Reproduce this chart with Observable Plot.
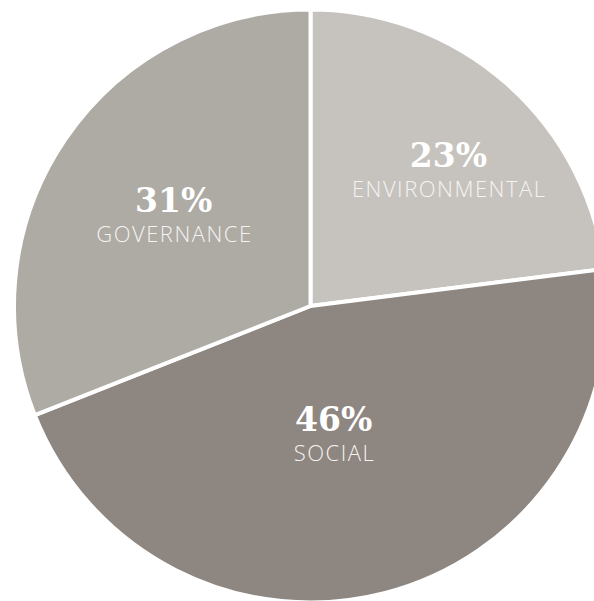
<!DOCTYPE html>
<html><head><meta charset="utf-8">
<script src="https://cdn.jsdelivr.net/npm/d3@7"></script>
<script src="https://cdn.jsdelivr.net/npm/@observablehq/plot@0.6"></script>
<style>
  html,body{margin:0;padding:0;background:#fff;overflow:hidden;}
  #chart svg{display:block;}
</style>
</head><body><div id="chart"></div>
<script>
// ---- data ----
const categories = ["ENVIRONMENTAL", "SOCIAL", "GOVERNANCE"];
const shares = [23, 46, 31];
const percentLabels = ["23%", "46%", "31%"];
const sliceColors = ["#c6c3be", "#8e8680", "#aeaaa4"];

// ---- layout (not data) ----
const W = 594, H = 601;
const layout = {cx: 310.5, cy: 306, r: 296.5, labelR: [0.66, 0.428, 0.562], labelTurnDeg: [3.2, 4.1, 0.3]};
const pctSpacing = 0, catSpacing = 1.5;

const rows = categories.map((c, i) => ({category: c, share: shares[i], pct: percentLabels[i]}));
const arcs = d3.pie().sort(null).value(d => d.share)(rows);
const colorScale = Plot.scale({color: {type: "ordinal", domain: categories, range: sliceColors}});

arcs.forEach((a, i) => {
  const ang = (a.startAngle + a.endAngle) / 2 + layout.labelTurnDeg[i] * Math.PI / 180;
  a.data.lx = layout.labelR[i] * Math.sin(ang);
  a.data.ly = layout.labelR[i] * Math.cos(ang);
});
const labelRows = arcs.map(a => a.data);

function pieSlices(index, scales) {
  const x = scales.x, y = scales.y;
  const cx = x(0), cy = y(0), R = x(1) - x(0);
  const arc = d3.arc().innerRadius(0).outerRadius(R);
  const g = d3.create("svg:g").attr("transform", `translate(${cx},${cy})`);
  g.selectAll("path").data(arcs).join("path")
    .attr("d", arc)
    .attr("fill", d => colorScale.apply(d.data.category))
    .attr("stroke", "#ffffff")
    .attr("stroke-width", 4)
    .attr("stroke-linejoin", "round");
  return g.node();
}

const chart = Plot.plot({
  width: W, height: H, margin: 0,
  x: {domain: [-1, 1], range: [layout.cx - layout.r, layout.cx + layout.r], axis: null},
  y: {domain: [-1, 1], range: [layout.cy + layout.r, layout.cy - layout.r], axis: null},
  style: {background: "#ffffff"},
  marks: [
    pieSlices,
    Plot.text(labelRows, {x: "lx", y: "ly", text: "pct", lineAnchor: "bottom", textAnchor: "middle",
      dx: pctSpacing / 2,
      fill: "#ffffff", fontSize: 33, fontFamily: "DejaVu Serif", fontWeight: "bold"}),
    Plot.text(labelRows, {x: "lx", y: "ly", text: "category", lineAnchor: "bottom", textAnchor: "middle",
      dy: 30, dx: catSpacing / 2,
      fill: "#f5f3f1", fontSize: 22, fontFamily: "Open Sans", fontWeight: 300})
  ]
});
const texts = d3.select(chart).selectAll("g[aria-label='text']");
d3.select(texts.nodes()[0]).attr("letter-spacing", pctSpacing);
d3.select(texts.nodes()[1]).attr("letter-spacing", catSpacing);
document.getElementById("chart").appendChild(chart);
</script>
</body></html>
